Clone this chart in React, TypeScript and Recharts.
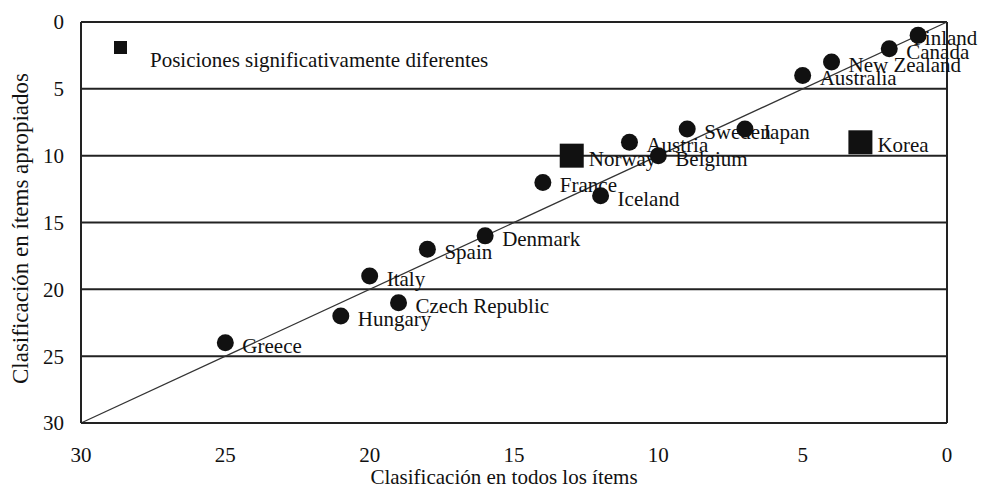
import { ScatterChart, Scatter, XAxis, YAxis, CartesianGrid, ReferenceLine } from "recharts";

const countries = [
  "Finland", "Canada", "New Zealand", "Australia", "Korea", "Japan", "Sweden",
  "Austria", "Belgium", "Norway", "Iceland", "France", "Denmark", "Spain",
  "Czech Republic", "Italy", "Hungary", "Greece",
];
// rank on all items (x) and rank on appropriate items (y)
const allItemsRank = [1, 2, 4, 5, 3, 7, 9, 11, 10, 13, 12, 14, 16, 18, 19, 20, 21, 25];
const appropriateRank = [1, 2, 3, 4, 9, 8, 8, 9, 10, 10, 13, 12, 16, 17, 21, 19, 22, 24];
const significant = ["Korea", "Norway"];
const rankTicks = [0, 5, 10, 15, 20, 25, 30];

const FONT = "'Liberation Serif', 'Times New Roman', serif";
const INK = "#111";

// small nudges where the printed label sits off the usual spot
const labelShift: Record<string, number> = { Finland: -22 };

const points = countries.map((name, i) => ({
  name,
  x: allItemsRank[i],
  y: appropriateRank[i],
}));
const normalPoints = points.filter((p) => !significant.includes(p.name));
const sigPoints = points.filter((p) => significant.includes(p.name));

const LabelShape = (props: any) => {
  const { cx, cy, payload } = props;
  const dx = 17 + (labelShift[payload.name] ?? 0);
  return (
    <text
      x={cx + dx}
      y={cy + 3}
      dominantBaseline="central"
      fontFamily={FONT}
      fontSize={21}
      fill={INK}
    >
      {payload.name}
    </text>
  );
};

const DotShape = (props: any) => <circle cx={props.cx} cy={props.cy} r={8.5} fill={INK} />;

const SquareShape = (props: any) => (
  <rect x={props.cx - 12} y={props.cy - 12} width={24} height={24} fill={INK} />
);

export default function App() {
  return (
    <div style={{ position: "absolute", left: 0, top: 0, width: 984, height: 489, background: "#fff" }}>
      <ScatterChart width={984} height={489} margin={{ top: 22, right: 37, bottom: 0, left: 0 }}>
        <CartesianGrid horizontal vertical={false} stroke="#222" strokeWidth={2} />
        <XAxis
          type="number"
          dataKey="x"
          domain={[0, 30]}
          ticks={rankTicks}
          reversed
          height={66}
          tickLine={false}
          tickSize={0}
          tickMargin={24}
          axisLine={{ stroke: "#222", strokeWidth: 2 }}
          tick={{ fontFamily: FONT, fontSize: 21, fill: INK }}
          label={{
            value: "Clasificación en todos los ítems",
            position: "insideBottom",
            offset: 5,
            dx: -10,
            style: { fontFamily: FONT, fontSize: 21, fill: INK },
          }}
        />
        <YAxis
          type="number"
          dataKey="y"
          domain={[0, 30]}
          ticks={rankTicks}
          reversed
          width={81}
          tickLine={false}
          tickSize={0}
          tickMargin={17}
          axisLine={{ stroke: "#222", strokeWidth: 2 }}
          tick={{ fontFamily: FONT, fontSize: 21, fill: INK }}
          label={{
            value: "Clasificación en ítems apropiados",
            angle: -90,
            position: "insideLeft",
            offset: 20,
            dy: 6,
            style: { fontFamily: FONT, fontSize: 23, fill: INK, textAnchor: "middle" },
          }}
        />
        <ReferenceLine x={0} stroke="#222" strokeWidth={2} />
        <ReferenceLine
          segment={[{ x: 30, y: 30 }, { x: 0, y: 0 }]}
          stroke="#333"
          strokeWidth={1.3}
        />
        <Scatter data={points} shape={LabelShape} isAnimationActive={false} />
        <Scatter data={normalPoints} shape={DotShape} isAnimationActive={false} />
        <Scatter data={sigPoints} shape={SquareShape} isAnimationActive={false} />
      </ScatterChart>
      <div style={{ position: "absolute", left: 114, top: 41, width: 13, height: 13, background: INK }} />
      <div
        style={{
          position: "absolute",
          left: 150,
          top: 47,
          fontFamily: FONT,
          fontSize: 21,
          color: INK,
          lineHeight: "26px",
          whiteSpace: "nowrap",
        }}
      >
        Posiciones significativamente diferentes
      </div>
    </div>
  );
}
